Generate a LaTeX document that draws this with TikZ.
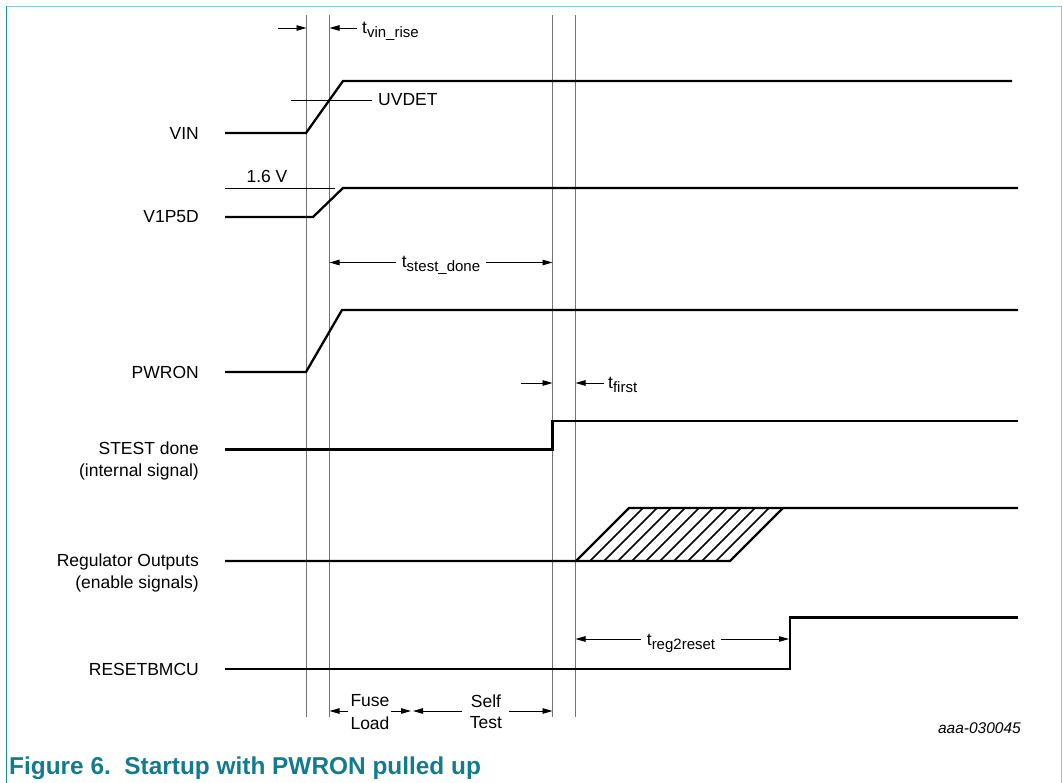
\documentclass[tikz,border=0pt]{standalone}
\usepackage{fontspec}
\setmainfont{Liberation Sans}
\usetikzlibrary{arrows.meta}
\definecolor{nxpteal}{RGB}{20,122,140}
\definecolor{framelight}{RGB}{140,204,218}
\definecolor{framedark}{RGB}{30,138,158}
\newcommand{\tsub}[1]{t{\fontsize{15}{18}\selectfont\raisebox{-4pt}{#1}}}
\begin{document}
\begin{tikzpicture}[x=1pt,y=-1pt,
  sig/.style={line width=2.3pt, line join=miter},
  hatchline/.style={line width=1.6pt},
  guide/.style={black!55, line width=0.9pt},
  refline/.style={black, line width=0.8pt},
  arr/.style={black, line width=0.9pt, -{Triangle[length=10pt,width=5.5pt]}},
  dimarr/.style={black, line width=0.9pt, {Triangle[length=10pt,width=5.5pt]}-{Triangle[length=10pt,width=5.5pt]}},
  lbl/.style={font=\fontsize{17.5}{21}\selectfont, inner sep=0pt},
  tlbl/.style={font=\fontsize{17.5}{21}\selectfont, fill=white, inner xsep=6pt, inner ysep=2pt},
]
\useasboundingbox (0,0) rectangle (1063,783);
% frame
\draw[framelight, line width=1.5pt] (6,6.5) -- (1061.5,6.5) -- (1061.5,783);
\draw[framedark, line width=1.5pt] (6.5,6) -- (6.5,783);

% guide lines
\coordinate (gatop) at (306.5,15);
\coordinate (gabot) at (306.5,717);
\coordinate (gbtop) at (329.5,15);
\coordinate (gbbot) at (329.5,717);
\coordinate (gctop) at (552.5,15);
\coordinate (gcbot) at (552.5,717);
\coordinate (gdtop) at (575.5,15);
\coordinate (gdbot) at (575.5,717);
\draw[guide] (gatop) -- (gabot);
\draw[guide] (gbtop) -- (gbbot);
\draw[guide] (gctop) -- (gcbot);
\draw[guide] (gdtop) -- (gdbot);

% signal labels
\node[lbl, anchor=east] (lvin) at (199,133) {VIN};
\node[lbl, anchor=east] (lv1p5d) at (199,217) {V1P5D};
\node[lbl, anchor=east] (lpwron) at (199,372) {PWRON};
\node[lbl, anchor=base east] (lstest) at (199,454) {STEST done};
\node[lbl, anchor=base east] (lstestb) at (199,476) {(internal signal)};
\node[lbl, anchor=base east] (lreg) at (199,566) {Regulator Outputs};
\node[lbl, anchor=base east] (lregb) at (199,588) {(enable signals)};
\node[lbl, anchor=east] (lreset) at (199,669) {RESETBMCU};

% VIN
\coordinate (vin0) at (225,133);
\coordinate (vin1) at (306,133);
\coordinate (vin2) at (343,81);
\coordinate (vin3) at (1012,81);
\draw[sig] (vin0) -- (vin1) -- (vin2) -- (vin3);
\coordinate (uv0) at (291,100);
\coordinate (uv1) at (372,100);
\draw[refline] (uv0) -- (uv1);
\node[lbl, anchor=west] (uvdet) at (378,100) {UVDET};

% V1P5D
\coordinate (v0) at (225,217);
\coordinate (v1) at (313,217);
\coordinate (v2) at (343,188);
\coordinate (v3) at (1018,188);
\draw[sig] (v0) -- (v1) -- (v2) -- (v3);
\coordinate (th0) at (225,188.3);
\coordinate (th1) at (335,188.3);
\draw[refline] (th0) -- (th1);
\node[lbl] (thv) at (267,176) {1.6 V};

% PWRON
\coordinate (p0) at (225,372);
\coordinate (p1) at (306,372);
\coordinate (p2) at (342,310);
\coordinate (p3) at (1018,310);
\draw[sig] (p0) -- (p1) -- (p2) -- (p3);

% STEST done
\coordinate (s0) at (225,449.5);
\coordinate (s1) at (552.5,449.5);
\coordinate (s2) at (552.5,421);
\coordinate (s3) at (1018,421);
\draw[sig] (s0) -- (s1) -- (s2) -- (s3);

% Regulator outputs
\coordinate (r0) at (225,561);
\coordinate (r1) at (576,561);
\coordinate (r2) at (629,508);
\coordinate (r3) at (1018,508);
\coordinate (r4) at (730,561);
\coordinate (r5) at (783,508);
\draw[sig] (r0) -- (r1) -- (r2) -- (r3);
\draw[sig] (r1) -- (r4) -- (r5);
\foreach \i in {1,...,10} {
  \draw[hatchline] ({576+14*\i},561) -- ({629+14*\i},508);
}

% RESETBMCU
\coordinate (e0) at (225,669);
\coordinate (e1) at (790,669);
\coordinate (e2) at (790,617.5);
\coordinate (e3) at (1018,617.5);
\draw[sig] (e0) -- (e1) -- (e2) -- (e3);

% t_vin_rise
\coordinate (vr0) at (278,28);
\coordinate (vr1) at (357,28);
\draw[arr] (vr0) -- (gatop |- vr0);
\draw[arr] (vr1) -- (gbtop |- vr1);
\node[lbl, anchor=base west] (tvin) at (362,34) {\tsub{vin\_rise}};

% t_stest_done
\coordinate (sd0) at (329.5,262.5);
\coordinate (sd1) at (552.5,262.5);
\draw[dimarr] (sd0) -- (sd1);
\node[tlbl, anchor=base] (tstest) at (441,268) {\tsub{stest\_done}};

% t_first
\coordinate (tf0) at (521,383);
\coordinate (tf1) at (604,383);
\draw[arr] (tf0) -- (gctop |- tf0);
\draw[arr] (tf1) -- (gdtop |- tf1);
\node[lbl, anchor=base west] (tfirst) at (608,389) {\tsub{first}};

% t_reg2reset
\coordinate (rr0) at (575.5,639);
\coordinate (rr1) at (789,639);
\draw[dimarr] (rr0) -- (rr1);
\node[tlbl, anchor=base] (treg) at (681,645) {\tsub{reg2reset}};

% Fuse Load / Self Test
\node[lbl] (fuse) at (370,701) {Fuse};
\node[lbl] (load) at (370,723) {Load};
\node[lbl] (self) at (486,701) {Self};
\node[lbl] (test) at (486,723) {Test};
\coordinate (fl0) at (348,711);
\coordinate (fl1) at (391,711);
\coordinate (fl2) at (411,711);
\coordinate (st0) at (462,711);
\coordinate (st1) at (413,711);
\coordinate (st2) at (509,711);
\draw[arr] (fl0) -- (gbbot |- fl0);
\draw[arr] (fl1) -- (fl2);
\draw[arr] (st0) -- (st1);
\draw[arr] (st2) -- (gcbot |- st2);

% code and caption
\node[font=\fontsize{15.5}{18}\selectfont\itshape, anchor=base east, inner sep=0pt] (code) at (1021,733) {aaa-030045};
\node[font=\fontsize{24.4}{29}\selectfont\bfseries, text=nxpteal, anchor=base west, inner sep=0pt] (title) at (9,774) {Figure 6.\ \ Startup with PWRON pulled up};
\end{tikzpicture}
\end{document}
